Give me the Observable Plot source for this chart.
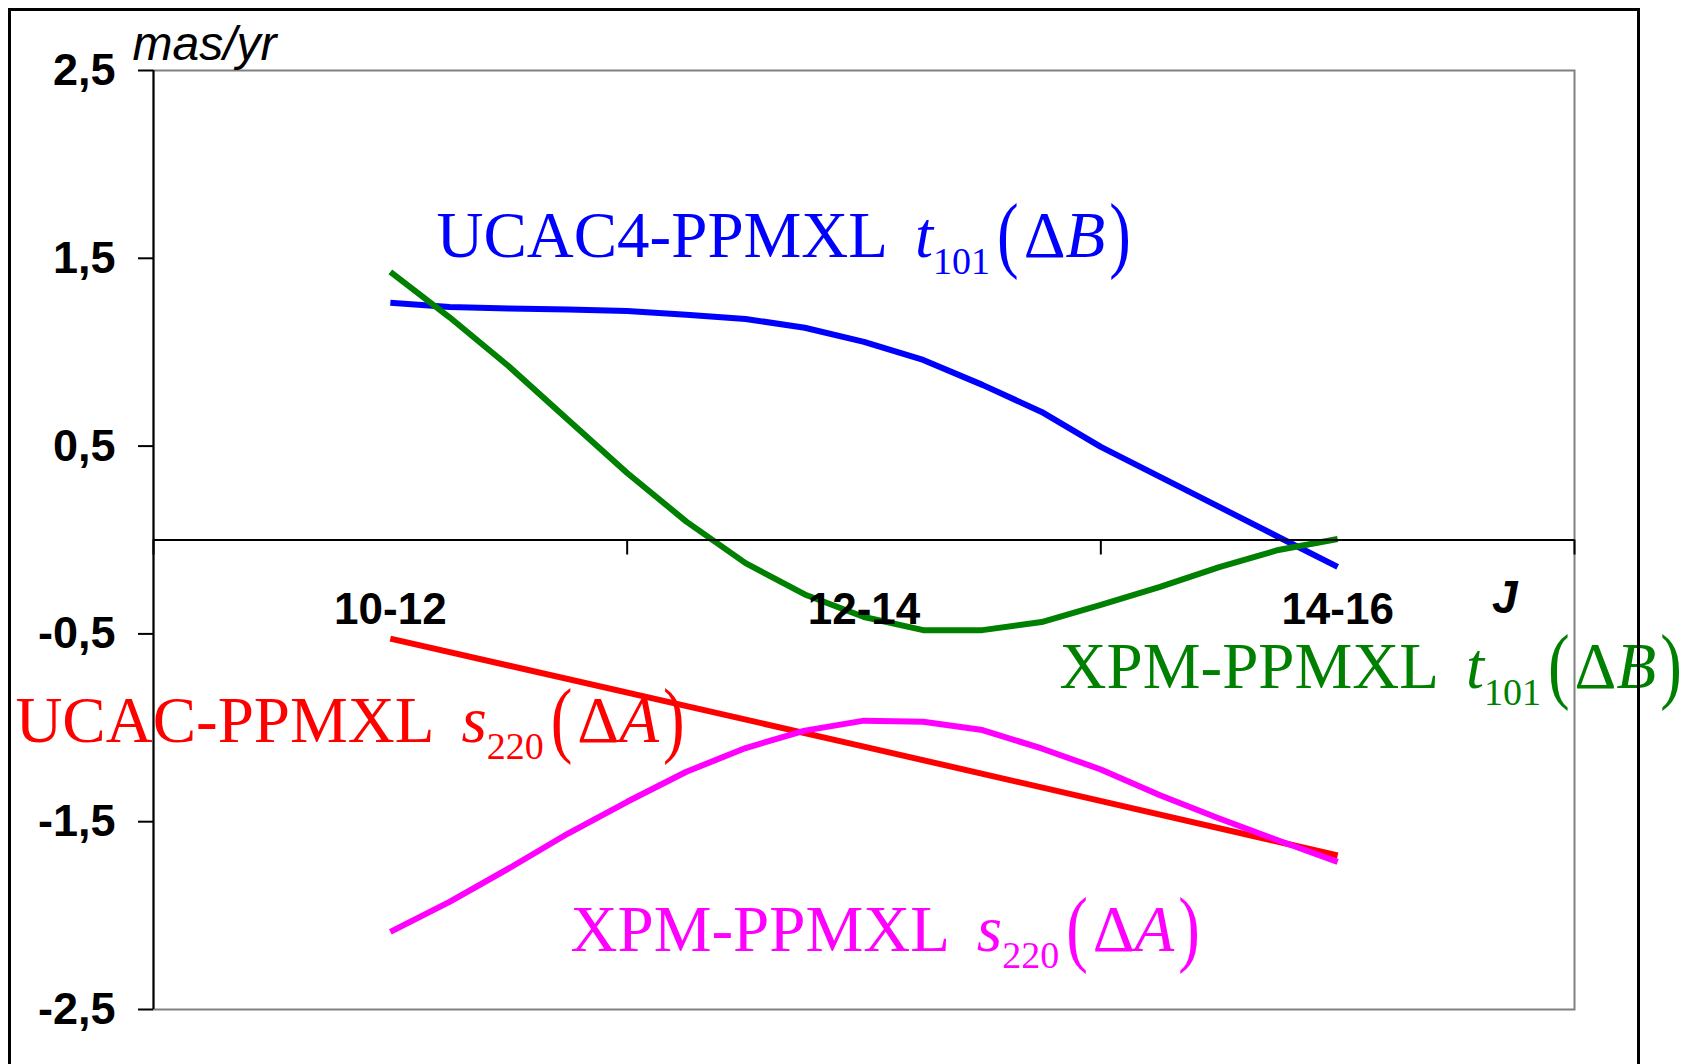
<!DOCTYPE html>
<html>
<head>
<meta charset="utf-8">
<script src="https://cdn.jsdelivr.net/npm/d3@7"></script>
<script src="https://cdn.jsdelivr.net/npm/@observablehq/plot@0.6"></script>
<style>
  html, body { margin: 0; padding: 0; background: #fff; overflow: hidden; }
  #wrap { position: relative; width: 1684px; height: 1064px; }
  #border { position: absolute; left: 8px; top: 8px; width: 1626px; height: 1200px;
            border: 3px solid #000; pointer-events: none; }
</style>
</head>
<body>
<div id="wrap"><div id="chart"></div><div id="border"></div></div>
<script>
// Magnitude bins along the J axis
const categories = ["10-12", "12-14", "14-16"];
const categoryMid = [11, 13, 15];
const binEdges = [10, 12, 14, 16];
const yTicks = [-2.5, -1.5, -0.5, 0.5, 1.5, 2.5];

// Sampled J magnitudes for the smooth curves
const J = [11, 11.25, 11.5, 11.75, 12, 12.25, 12.5, 12.75, 13, 13.25, 13.5, 13.75, 14, 14.25, 14.5, 14.75, 15];

// Vector spherical function coefficients (mas/yr)
const ucac4T101 = [1.263, 1.241, 1.233, 1.227, 1.22, 1.2, 1.177, 1.13, 1.055, 0.959, 0.826, 0.682, 0.496, 0.336, 0.176, 0.016, -0.143];
const xpmT101   = [1.428, 1.186, 0.925, 0.64, 0.357, 0.098, -0.123, -0.29, -0.41, -0.48, -0.48, -0.437, -0.346, -0.25, -0.144, -0.053, 0.005];
const xpmS220   = [-2.087, -1.927, -1.749, -1.563, -1.394, -1.234, -1.108, -1.015, -0.962, -0.968, -1.012, -1.11, -1.222, -1.359, -1.483, -1.60, -1.714];
const ucacJ     = [11, 13, 15];
const ucacS220  = [-0.525, -1.10, -1.68];

// Series identity and colours
const seriesNames  = ["UCAC4-PPMXL t101", "XPM-PPMXL t101", "UCAC-PPMXL s220", "XPM-PPMXL s220"];
const seriesColors = ["#0000ff", "#008000", "#ff0000", "#ff00ff"];

// Curve labels: catalogue pair, coefficient symbol, index, argument, anchor (J, mas/yr)
const labelText   = ["UCAC4-PPMXL", "XPM-PPMXL", "UCAC-PPMXL", "XPM-PPMXL"];
const labelSymbol = ["t", "t", "s", "s"];
const labelIndex  = ["101", "101", "220", "220"];
const labelArg    = ["B", "B", "A", "A"];
const labelJ      = [11.195, 13.826, 9.417, 11.761];
const labelValue  = [1.507, -0.79, -1.077, -2.191];

const rows = [
  ...J.map((j, i) => ({series: seriesNames[0], J: j, value: ucac4T101[i]})),
  ...J.map((j, i) => ({series: seriesNames[1], J: j, value: xpmT101[i]})),
  ...ucacJ.map((j, i) => ({series: seriesNames[2], J: j, value: ucacS220[i]})),
  ...J.map((j, i) => ({series: seriesNames[3], J: j, value: xpmS220[i]}))
];
const labels = labelText.map((t, i) => ({
  text: t, symbol: labelSymbol[i], index: labelIndex[i], arg: labelArg[i],
  J: labelJ[i], value: labelValue[i], series: seriesNames[i]
}));

const fmt = d => d.toFixed(1).replace(".", ",");
const serif = "'Liberation Serif', 'Times New Roman', serif";
const labelSize = 65;

const chart = Plot.plot({
  width: 1684,
  height: 1064,
  marginLeft: 153,
  marginRight: 110,
  marginTop: 70,
  marginBottom: 55,
  style: {fontFamily: "'Liberation Sans', Arial, sans-serif", color: "#000", background: "transparent", overflow: "visible"},
  x: {domain: [10, 16], axis: null},
  y: {domain: [-2.5, 2.5]},
  color: {domain: seriesNames, range: seriesColors},
  marks: [
    // curve labels
    Plot.text(labels, {
      x: "J", y: "value", text: "text", fill: "series",
      textAnchor: "start", lineAnchor: "bottom",
      fontFamily: serif, fontSize: labelSize,
      className: "series-label"
    }),
    // curves
    Plot.line(rows, {x: "J", y: "value", z: "series", stroke: "series",
      strokeWidth: 6, strokeLinecap: "butt", strokeLinejoin: "round"}),
    // plot area frame
    Plot.frame({stroke: "#808080", strokeWidth: 2}),
    // left axis line
    Plot.ruleX([10], {stroke: "#000", strokeWidth: 2}),
    // zero line acting as the J axis
    Plot.ruleY([0], {stroke: "#000", strokeWidth: 2}),
    // bin boundary ticks hanging below the zero line
    Plot.ruleX(binEdges, {y1: 0, y2: 0, insetBottom: -15, stroke: "#000", strokeWidth: 2}),
    // bin labels
    Plot.text(categories, {x: (d, i) => categoryMid[i], y: 0, text: d => d,
      dy: 84, lineAnchor: "bottom", fontSize: 44, fontWeight: "bold", fill: "#000"}),
    // J axis name
    Plot.text(["J"], {frameAnchor: "right", y: 0, text: d => d, dx: -57, dy: 73,
      lineAnchor: "bottom", fontSize: 46, fontWeight: "bold", fontStyle: "italic", fill: "#000"}),
    // unit label
    Plot.text(["mas/yr"], {frameAnchor: "top-left", text: d => d, dx: -21, dy: -11,
      textAnchor: "start", lineAnchor: "bottom", fontSize: 48, fontStyle: "italic", fill: "#000"}),
    // value axis
    Plot.axisY({ticks: yTicks, tickFormat: fmt, tickSize: 15, tickPadding: 23,
      fontSize: 45, fontWeight: "bold", label: null, strokeWidth: 2})
  ]
});

document.getElementById("chart").appendChild(chart);

// Complete each label with its coefficient notation, e.g. t_101(ΔB).
// The subscripted symbol continues the label text; the stretched brackets and
// the argument are separate pieces placed right after it.
let labelNodes = d3.select(chart).selectAll("g.series-label text");
if (labelNodes.empty()) {
  labelNodes = d3.select(chart).selectAll("text")
    .filter(function() { return labelText.includes(this.textContent); });
}
labelNodes.each(function(_, i) {
  const lab = labels[i];
  const t = d3.select(this);
  t.append("tspan").attr("dx", 27).attr("font-style", "italic").text(lab.symbol);
  t.append("tspan").attr("font-size", 38).attr("dy", 17).text(lab.index);

  const n = lab.text.length + lab.symbol.length + lab.index.length;
  const y0 = this.getStartPositionOfChar(0).y;
  const xEnd = this.getEndPositionOfChar(n - 1).x;
  const base = this.getAttribute("transform") || "";
  const fill = this.getAttribute("fill");
  const parent = d3.select(this.parentNode);

  const bracket = (x, ch) => parent.append("text")
    .attr("transform", `${base} translate(${x},${y0 + 5}) scale(1,1.3)`)
    .attr("fill", fill)
    .attr("font-size", labelSize)
    .text(ch);

  const open = bracket(xEnd + 7, "(");
  const xArg = xEnd + 7 + open.node().getComputedTextLength() + 5;
  const arg = parent.append("text")
    .attr("transform", `${base} translate(${xArg},${y0})`)
    .attr("fill", fill)
    .attr("font-size", labelSize);
  arg.append("tspan").text("\u0394");
  arg.append("tspan").attr("font-style", "italic").text(lab.arg);
  bracket(xArg + arg.node().getComputedTextLength() + 4, ")");
});
</script>
</body>
</html>
